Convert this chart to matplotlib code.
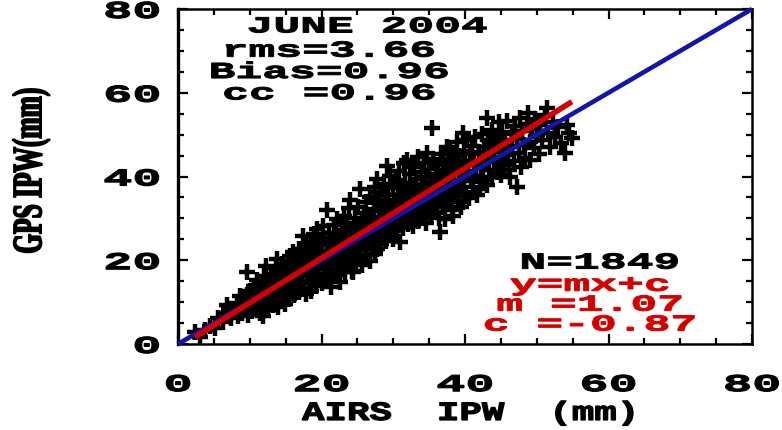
import matplotlib
matplotlib.use("Agg")
import matplotlib.pyplot as plt
import numpy as np
from matplotlib.patheffects import AbstractPathEffect
from matplotlib.transforms import Affine2D
from matplotlib.font_manager import FontProperties
from matplotlib.ticker import MultipleLocator, FixedLocator, FixedFormatter

# ---------------------------------------------------------------
# AIRS vs GPS integrated precipitable water (mm), June 2004
# ---------------------------------------------------------------
airs_ipw = [
    2.4, 3.1, 3.8, 4.5, 5.2, 5.6, 6.3, 6.8,
    6.8, 7.1, 7.4, 7.8, 8.2, 8.3, 8.6, 8.7, 8.9, 9.1, 9.4, 9.6, 9.6, 9.8,
    10.0, 10.1, 10.3, 10.4, 10.6, 10.7, 10.9, 11.0, 11.1, 11.2,
    11.4, 11.5, 11.6, 11.8, 11.8, 12.0, 12.1, 12.2, 12.3, 12.4,
    12.6, 12.7, 12.8, 12.9, 13.0, 13.1, 13.3, 13.4, 13.5, 13.6, 13.8, 13.8, 13.9,
    14.0, 14.1, 14.2, 14.3, 14.4, 14.5, 14.6, 14.7, 14.8, 14.9, 15.0, 15.1,
    15.2, 15.3, 15.4, 15.5, 15.6, 15.7, 15.8, 15.9, 16.0, 16.0,
    16.2, 16.3, 16.4, 16.5, 16.6, 16.7, 16.8, 16.9, 17.0, 17.1,
    17.2, 17.3, 17.4, 17.5, 17.6, 17.7, 17.8, 17.9, 18.0, 18.1,
    18.2, 18.3, 18.4, 18.5, 18.6, 18.7, 18.8, 18.9, 19.0, 19.1,
    19.2, 19.3, 19.4, 19.5, 19.6, 19.7, 19.8, 19.9, 20.0, 20.1,
    20.2, 20.3, 20.4, 20.5, 20.6, 20.7, 20.8, 20.9, 21.0, 21.1,
    21.2, 21.3, 21.4, 21.5, 21.6, 21.7, 21.8, 21.9, 22.0, 22.1,
    22.2, 22.3, 22.4, 22.5, 22.6, 22.7, 22.8, 22.9, 23.0, 23.1,
    23.2, 23.3, 23.4, 23.5, 23.6, 23.7, 23.8, 23.9, 24.0, 24.1,
    24.2, 24.3, 24.4, 24.5, 24.6, 24.7, 24.8, 24.9, 25.0, 25.1,
    25.2, 25.3, 25.4, 25.5, 25.6, 25.7, 25.8, 25.9, 26.0, 26.1,
    26.2, 26.3, 26.4, 26.5, 26.6, 26.7, 26.8, 26.9, 27.0, 27.1,
    27.2, 27.3, 27.4, 27.5, 27.6, 27.7, 27.7, 27.8, 27.9, 28.0,
    28.1, 28.2, 28.3, 28.4, 28.5, 28.6, 28.7, 28.8, 28.9, 29.0,
    29.1, 29.2, 29.3, 29.4, 29.5, 29.6, 29.7, 29.8, 29.9, 30.0,
    30.1, 30.2, 30.3, 30.4, 30.5, 30.6, 30.7, 30.8, 30.9, 31.0,
    31.1, 31.2, 31.3, 31.4, 31.5, 31.6, 31.7, 31.8, 31.9, 32.0,
    32.1, 32.2, 32.3, 32.4, 32.5, 32.6, 32.7, 32.8, 32.9, 33.0,
    33.1, 33.2, 33.3, 33.4, 33.5, 33.6, 33.7, 33.8, 33.9, 34.0,
    34.1, 34.2, 34.3, 34.4, 34.5, 34.6, 34.7, 34.8, 34.9, 35.0,
    35.1, 35.2, 35.3, 35.4, 35.5, 35.6, 35.7, 35.8, 35.9, 36.0,
    36.1, 36.2, 36.3, 36.4, 36.5, 36.6, 36.7, 36.8, 36.9, 37.0,
    37.1, 37.2, 37.3, 37.4, 37.5, 37.6, 37.7, 37.8, 37.9, 38.0,
    38.1, 38.2, 38.3, 38.4, 38.5, 38.6, 38.7, 38.8,
    38.9, 39.0, 39.1, 39.2, 39.3, 39.4, 39.5, 39.7, 39.7, 39.8,
    39.9, 40.0, 40.2, 40.3, 40.4, 40.6, 40.7, 40.8, 41.0, 41.1,
    41.3, 41.4, 41.6, 41.7, 41.9, 42.1,
    42.2, 42.3, 42.5, 42.6, 42.8, 43.0, 43.1, 43.2, 43.4, 43.5,
    43.7, 43.8, 44.0, 44.1, 44.3, 44.4, 44.6, 44.8, 44.9, 45.0,
    45.2, 45.3,
    45.5, 45.6, 45.8, 46.0, 46.1, 46.3, 46.5, 46.6, 46.8, 47.0,
    47.2, 47.3, 47.5, 47.7, 47.8, 48.0, 48.2, 48.4,
    48.6, 48.8, 49.0, 49.1, 49.3, 49.6, 49.8, 50.0, 50.3, 50.5,
    50.8, 51.1, 51.4, 51.6, 51.9,
    52.3, 52.6, 53.0, 53.4, 53.9, 54.2, 54.5, 54.9,
]
gps_ipw = [
    2.9, 1.6, 3.4, 4.2, 3.8, 6.1, 5.2, 7.4,
    9.3, 8.3, 6.2, 7.9, 9.8, 6.8, 11.4, 8.6, 7.3, 10.2, 8.9, 11.7, 17.1, 6.9,
    9.4, 12.6, 7.8, 10.9, 13.8, 8.9, 11.6, 15.4, 9.7, 12.9,
    7.4, 14.3, 10.6, 6.7, 12.1, 16.2, 9.0, 13.5, 18.6, 11.3,
    8.1, 14.6, 12.2, 10.1, 16.8, 13.4, 9.2, 15.3, 11.8, 18.2, 20.2, 13.9, 8.8,
    16.1, 12.4, 10.4, 14.8, 17.6, 19.1, 13.2, 11.1, 15.9, 9.6, 17.2, 14.1,
    12.3, 19.8, 16.4, 10.7, 21.1, 14.9, 17.9, 13.1, 21.9, 15.8,
    11.6, 18.7, 16.9, 13.9, 20.3, 15.1, 12.4, 22.6, 17.6, 19.4,
    14.5, 16.3, 25.7, 21.2, 13.2, 18.3, 11.9, 23.4, 16.9, 20.1,
    14.8, 22.3, 18.8, 12.7, 24.6, 17.2, 20.9, 15.6, 26.2, 19.3,
    13.8, 22.9, 27.4, 17.8, 21.4, 16.1, 24.1, 19.9, 14.6, 22.2,
    28.1, 18.4, 25.3, 16.7, 20.8, 23.6, 32.1, 19.1, 15.3, 26.4,
    21.8, 13.6, 24.2, 18.1, 17.1, 28.4, 22.9, 20.2, 26.1, 16.4,
    29.8, 23.7, 19.4, 25.2, 14.8, 21.3, 27.3, 18.2, 24.4, 30.6,
    22.1, 17.3, 26.8, 20.4, 28.9, 23.1, 19.1, 32.4, 34.5, 25.6,
    21.6, 17.4, 17.1, 27.9, 23.4, 30.2, 19.8, 25.9, 22.4, 32.8,
    27.1, 20.6, 36.9, 24.7, 29.3, 18.9, 26.4, 31.4, 22.9, 28.2,
    33.9, 21.2, 25.4, 30.7, 27.6, 19.9, 35.1, 24.1, 29.6, 23.2,
    26.8, 32.2, 21.4, 37.6, 28.9, 39.3, 22.6, 25.1, 34.4, 30.3,
    27.2, 36.2, 23.9, 31.7, 29.1, 25.8, 38.1, 33.6, 27.9, 24.6,
    42.4, 31.1, 35.6, 28.4, 26.2, 40.2, 32.9, 30.1, 37.3, 25.1,
    34.2, 28.7, 31.8, 39.1, 26.9, 35.7, 33.1, 41.3, 24.3, 29.9,
    37.4, 32.4, 27.8, 35.1, 43.2, 30.6, 38.4, 33.7, 44.0, 28.6,
    36.3, 31.9, 40.5, 34.8, 29.4, 37.9, 32.6, 28.1, 42.2, 35.6,
    31.2, 39.4, 33.9, 29.3, 44.6, 36.8, 31.7, 41.1, 34.4, 38.2,
    30.1, 35.9, 43.3, 33.0, 39.9, 28.9, 45.7, 37.1, 32.3, 41.8,
    35.4, 30.6, 38.7, 51.7, 34.2, 44.1, 36.4, 31.6, 40.6, 37.8,
    33.4, 42.7, 38.9, 30.2, 26.7, 35.8, 45.3, 40.1, 32.7, 43.6,
    37.2, 29.8, 41.4, 35.1, 47.1, 39.5, 33.8, 44.2, 46.4, 36.6,
    41.9, 31.9, 30.5, 39.0, 45.1, 35.3, 42.8, 37.7,
    48.2, 34.1, 40.7, 44.9, 37.0, 32.6, 42.3, 50.5, 33.8, 46.2,
    38.9, 43.7, 36.1, 48.6, 41.2, 34.9, 45.4, 39.3, 47.3, 37.6,
    43.0, 49.4, 40.1, 35.7, 45.9, 36.9,
    42.6, 50.1, 39.2, 47.0, 44.3, 38.0, 54.0, 48.7, 41.5, 45.8,
    51.2, 39.9, 46.9, 43.4, 49.6, 41.0, 47.9, 52.9, 44.7, 40.3,
    50.6, 46.2,
    42.8, 48.8, 53.3, 45.1, 41.6, 40.0, 50.2, 47.4, 43.7, 52.1,
    37.4, 48.9, 45.6, 54.0, 42.2, 50.9, 47.6, 44.5,
    52.6, 55.2, 48.3, 44.0, 51.4, 46.7, 53.7, 49.8, 45.3, 52.3,
    48.6, 54.6, 56.4, 50.5, 47.1,
    53.1, 49.4, 51.8, 47.9, 45.7, 52.4, 50.3, 49.3,
]

# Summary statistics printed on the panel
period_label = "JUNE 2004"
rms_value = 3.66
bias_value = 0.96
cc_value = 0.96
n_pairs = 1849
fit_slope = 1.07
fit_intercept = -0.87

tick_values = [0, 20, 40, 60, 80]
tick_labels = ["0", "20", "40", "60", "80"]
x_title = "AIRS  IPW  (mm)"
y_title = "GPS IPW(mm)"

RED = "#d40000"
BLUE = "#1414a8"
MONO = "Liberation Mono"
TXT_SIZE = 16.5


class WideGlyphs(AbstractPathEffect):
    """Scale glyph outlines along the baseline about an anchor point,
    optionally thickening them with an outline stroke."""

    def __init__(self, sx, anchor="center", stroke=0.0):
        super().__init__()
        self.sx = sx
        self.anchor = anchor
        self.stroke = stroke

    def draw_path(self, renderer, gc, tpath, affine, rgbFace=None):
        ext = tpath.get_extents()
        if self.anchor == "left":
            ref = ext.x0
        elif self.anchor == "right":
            ref = ext.x1
        else:
            ref = 0.5 * (ext.x0 + ext.x1)
        pre = Affine2D().translate(-ref, 0).scale(self.sx, 1.0).translate(ref, 0)
        gc0 = renderer.new_gc()
        gc0.copy_properties(gc)
        if self.stroke > 0 and rgbFace is not None:
            gc0.set_linewidth(self.stroke)
            gc0.set_foreground(rgbFace)
            gc0.set_joinstyle("miter")
        renderer.draw_path(gc0, tpath, pre + affine, rgbFace)
        gc0.restore()


W, H = 782, 431
fig = plt.figure(figsize=(W / 100, H / 100), dpi=100)
ax = fig.add_axes([178 / W, 1 - 345 / H, (752 - 178) / W, (345 - 10) / H])

airs = np.asarray(airs_ipw)
gps = np.asarray(gps_ipw)

# individual collocations
ax.plot(airs, gps, linestyle="none", marker="+", color="black",
        markersize=11, markeredgewidth=3.2, zorder=2)

# one-to-one reference line
ax.plot([0, 80], [0, 80], color=BLUE, lw=3.3, zorder=3, clip_on=False,
        solid_capstyle="butt")

# least-squares fit y = m x + c across the AIRS range
fit_x = np.array([airs.min(), airs.max()])
ax.plot(fit_x, fit_slope * fit_x + fit_intercept, color=RED, lw=4.0,
        zorder=4, solid_capstyle="butt")

ax.set_xlim(0, 80)
ax.set_ylim(0, 80)

for axis in (ax.xaxis, ax.yaxis):
    axis.set_major_locator(FixedLocator(tick_values))
    axis.set_major_formatter(FixedFormatter(tick_labels))
    axis.set_minor_locator(MultipleLocator(5))

ax.tick_params(which="both", direction="in", top=True, right=True,
               width=1.6, colors="black")
ax.tick_params(which="major", length=7.5)
ax.tick_params(which="minor", length=4.5)
ax.tick_params(axis="x", which="major", pad=21)
ax.tick_params(axis="y", which="major", pad=13)

for sp in ax.spines.values():
    sp.set_linewidth(1.8)
ax.spines["left"].set_linewidth(2.4)

for lbl in ax.get_xticklabels():
    lbl.set_fontfamily(MONO)
    lbl.set_fontweight("bold")
    lbl.set_fontsize(17.5)
    lbl.set_path_effects([WideGlyphs(2.0, "center", 0.8)])
for lbl in ax.get_yticklabels():
    lbl.set_fontfamily(MONO)
    lbl.set_fontweight("bold")
    lbl.set_fontsize(17.5)
    lbl.set_path_effects([WideGlyphs(2.0, "right", 0.8)])

# axis titles
fig.text(470 / W, 1 - 414 / H, x_title, ha="center", va="center",
         family=MONO, weight="bold", fontsize=19,
         path_effects=[WideGlyphs(1.42, "center", 0.9)])
fig.text(31 / W, 1 - 172 / H, y_title, rotation=90, ha="center", va="center",
         family="Liberation Serif", weight="bold", fontsize=30,
         path_effects=[WideGlyphs(0.61, "center", 1.2)])

# multi-line spacing: baseline step = ascent * linespacing + descent
renderer = fig.canvas.get_renderer()
_prop = FontProperties(family=MONO, weight="bold", size=TXT_SIZE)
_w, _h, _d = renderer.get_text_width_height_descent("lp", _prop, ismath=False)
ascent_px = _h - _d


def spacing_for(step_px):
    return (step_px - _d) / ascent_px


txt_kw = dict(family=MONO, weight="bold", fontsize=TXT_SIZE,
              path_effects=[WideGlyphs(1.95, "center", 0.7)])

# statistics block, upper left (anchored on the baseline of its last line)
ax.text(26.4, 74.4, period_label, color="black", ha="center",
        va="baseline", **txt_kw)
stats_block = "\n".join([f"rms={rms_value:.2f}",
                         f"Bias={bias_value:.2f}",
                         f"cc ={cc_value:.2f}"])
ax.text(21.1, 58.4, stats_block, color="black", ha="center", va="baseline",
        multialignment="center", linespacing=spacing_for(21.4), **txt_kw)

# sample size and fit coefficients, lower right
ax.text(58.8, 18.0, f"N={n_pairs}", color="black", ha="center",
        va="baseline", **txt_kw)
fit_block = "\n".join(["y=mx+c",
                       f"m ={fit_slope:.2f}",
                       f"c ={fit_intercept:.2f}"])
ax.text(57.4, 3.2, fit_block, color=RED, ha="center", va="baseline",
        multialignment="center", linespacing=spacing_for(19.9), **txt_kw)

fig.savefig("out.png", dpi=100, facecolor="white")
